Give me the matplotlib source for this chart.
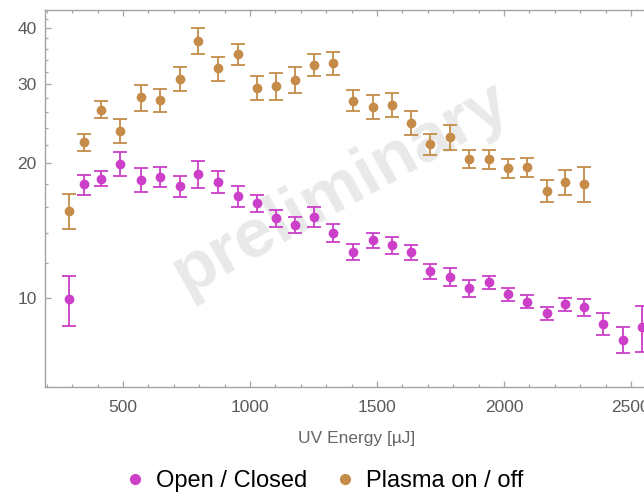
import matplotlib
matplotlib.use("Agg")
import matplotlib.pyplot as plt
from matplotlib.ticker import FixedLocator, MultipleLocator, NullFormatter, FixedFormatter
from matplotlib.lines import Line2D

plt.rcParams['font.family'] = ['Liberation Sans', 'DejaVu Sans']

# UV pulse energies (µJ)
energy = [287, 346, 415, 487, 570, 647, 723, 797, 876, 952, 1027, 1103, 1177,
          1252, 1328, 1406, 1483, 1559, 1636, 1709, 1788, 1862, 1940, 2017,
          2089, 2168, 2241, 2315, 2391, 2469, 2542]

# Open / Closed ratio with uncertainties
open_closed = [9.95, 17.96, 18.48, 19.96, 18.38, 18.67, 17.77, 18.90, 18.20,
               16.88, 16.32, 15.10, 14.59, 15.18, 13.99, 12.70, 13.47, 13.13,
               12.66, 11.49, 11.17, 10.54, 10.86, 10.22, 9.83, 9.27, 9.71,
               9.55, 8.78, 8.09, 8.62]
open_closed_err = [1.27, 0.92, 0.71, 1.22, 1.10, 0.94, 0.97, 1.29, 1.07, 0.89,
                   0.71, 0.64, 0.59, 0.79, 0.63, 0.52, 0.55, 0.55, 0.48, 0.45,
                   0.51, 0.44, 0.37, 0.35, 0.33, 0.30, 0.33, 0.42, 0.48, 0.53,
                   1.01]

# Plasma on / off ratio with uncertainties
plasma = [15.68, 22.27, 26.34, 23.60, 28.07, 27.68, 30.88, 37.47, 32.57, 34.99,
          29.44, 29.74, 30.72, 33.18, 33.42, 27.58, 26.75, 27.02, 24.64, 22.08,
          22.86, 20.45, 20.45, 19.49, 19.59, 17.38, 18.14, 17.98]
plasma_err = [1.37, 1.01, 1.13, 1.45, 1.87, 1.66, 1.93, 2.49, 1.99, 1.82, 1.81,
              2.03, 2.08, 1.84, 1.89, 1.48, 1.62, 1.61, 1.52, 1.22, 1.49, 0.93,
              0.99, 0.95, 0.94, 0.95, 1.14, 1.60]

series_labels = ["Open / Closed", "Plasma on / off"]
x_label = "UV Energy [µJ]"
y_major = [10, 20, 30, 40]
y_major_labels = ["10", "20", "30", "40"]
y_minor = [12, 14, 16, 18, 22, 24, 26, 28, 32, 34, 36, 38, 42]
x_major = [500, 1000, 1500, 2000, 2500]
watermark = "preliminary"

c_open = "#CC3FC8"
c_plasma = "#C48C48"
frame = "#A3A3A3"

W, H = 644, 493
fig = plt.figure(figsize=(W / 100, H / 100), dpi=100)
left_px, right_px, top_px, bottom_px = 45, 669, 10, 387
ax = fig.add_axes([left_px / W, 1 - bottom_px / H,
                   (right_px - left_px) / W, (bottom_px - top_px) / H])

ax.set_yscale('log')
ax.set_xlim(193, 2650)
ax.set_ylim(6.35, 43.9)

ebkw = dict(fmt='o', markersize=6, elinewidth=1.3, capsize=5, capthick=1.3,
            zorder=3)
n_plasma = len(plasma)
ax.errorbar(energy[:n_plasma], plasma, yerr=plasma_err, color=c_plasma, **ebkw)
ax.errorbar(energy, open_closed, yerr=open_closed_err, color=c_open, **ebkw)

ax.text(341 / W, 1 - 188 / H, watermark, transform=fig.transFigure,
        fontsize=50, fontweight='bold', color="#E9E9E9", rotation=29,
        ha='center', va='center', zorder=0.5)

ax.yaxis.set_major_locator(FixedLocator(y_major))
ax.yaxis.set_major_formatter(FixedFormatter(y_major_labels))
ax.yaxis.set_minor_locator(FixedLocator(y_minor))
ax.yaxis.set_minor_formatter(NullFormatter())
ax.xaxis.set_major_locator(FixedLocator(x_major))
ax.xaxis.set_minor_locator(MultipleLocator(100))

for s in ax.spines.values():
    s.set_color(frame)
    s.set_linewidth(1.0)

ax.tick_params(which='both', direction='in', top=True, right=True,
               color=frame, width=0.9, labelcolor="#5A5A5A", labelsize=12.5)
ax.tick_params(which='major', length=4)
ax.tick_params(which='minor', length=2.3)
ax.tick_params(axis='y', pad=6)
ax.tick_params(axis='x', pad=9)

ax.set_xlabel(x_label, fontsize=12.5, color="#666666", labelpad=12)

handles = [Line2D([], [], marker='o', linestyle='none', color=c_open,
                  markersize=7),
           Line2D([], [], marker='o', linestyle='none', color=c_plasma,
                  markersize=7)]
fig.legend(handles, series_labels, loc='center', ncol=2, frameon=False,
           bbox_to_anchor=(322 / W, 1 - 481 / H), fontsize=17,
           handletextpad=0.3, columnspacing=1.0, handlelength=1.2)

fig.savefig("out.png", dpi=100)
